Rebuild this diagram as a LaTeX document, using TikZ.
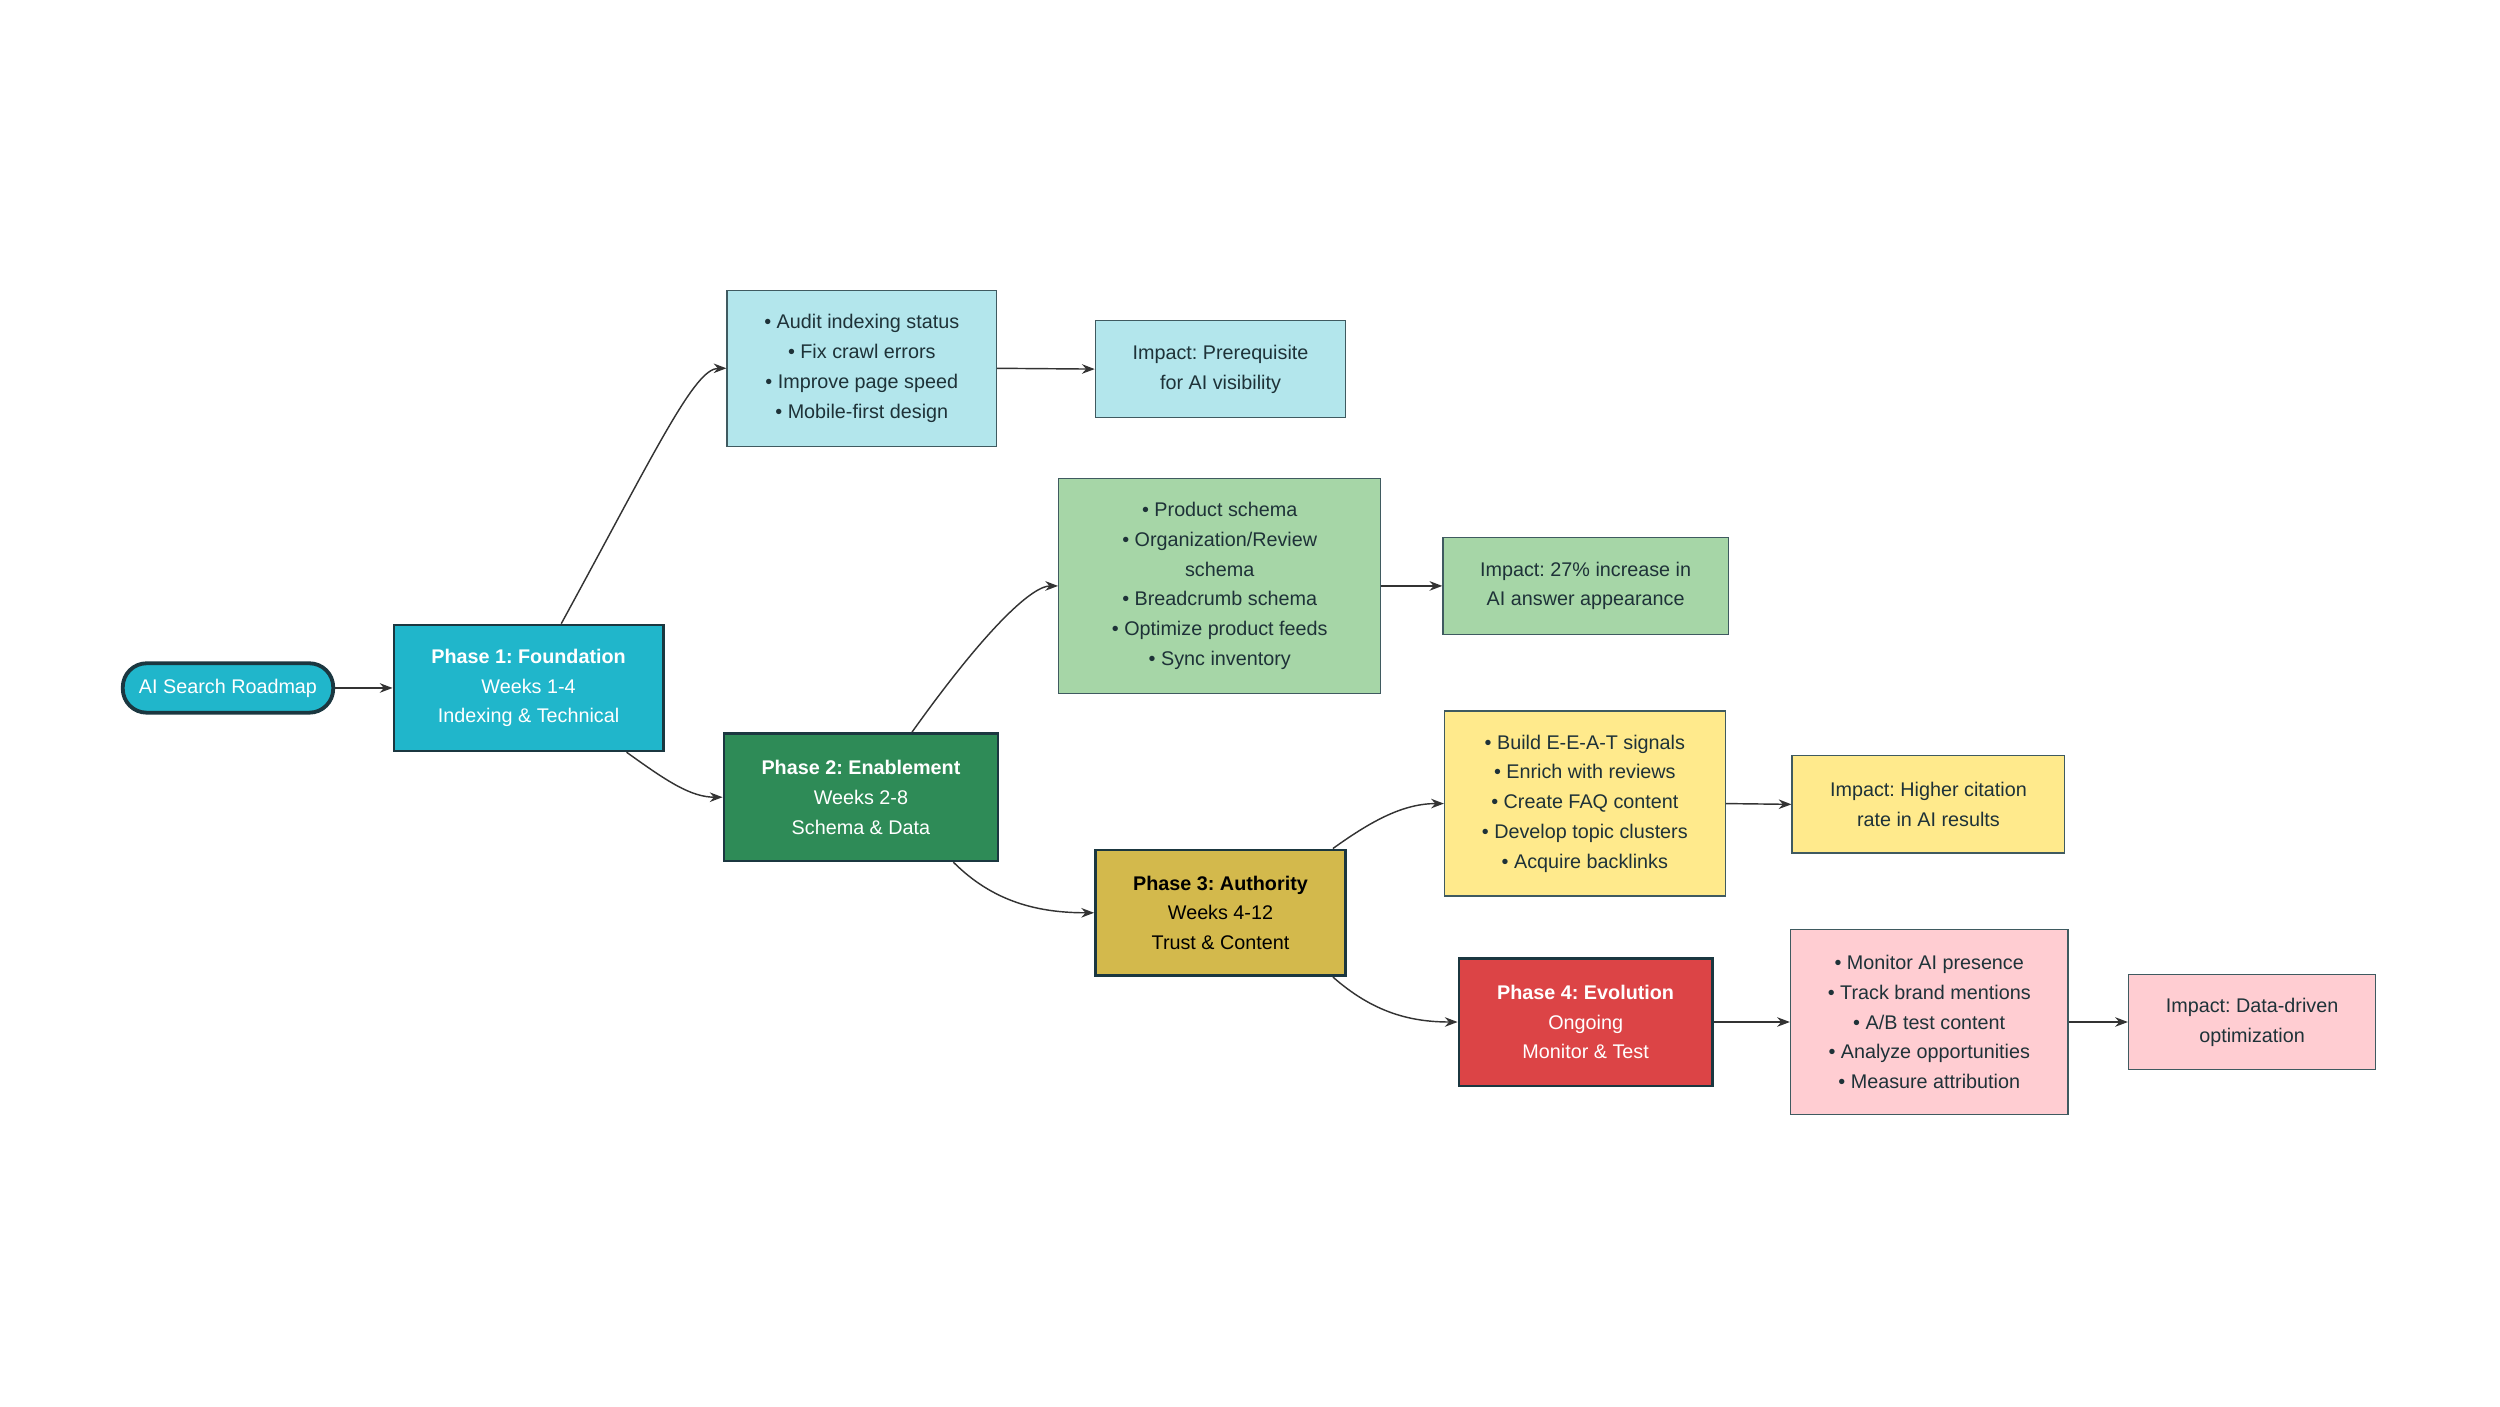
\documentclass[tikz,border=0pt]{standalone}
\usepackage{fontspec}
\setmainfont{Liberation Sans}
\usetikzlibrary{arrows.meta}
\frenchspacing
\definecolor{pone}{HTML}{20B6CB}
\definecolor{lone}{HTML}{B3E6EC}
\definecolor{ptwo}{HTML}{2E8B57}
\definecolor{ltwo}{HTML}{A6D6A7}
\definecolor{pthree}{HTML}{D3B94C}
\definecolor{lthree}{HTML}{FFEA8C}
\definecolor{pfour}{HTML}{DC4446}
\definecolor{lfour}{HTML}{FFCDD2}
\definecolor{bdark}{HTML}{1B3740}
\definecolor{lborder}{HTML}{3F5A60}
\definecolor{tdark}{HTML}{1E3238}
\definecolor{lgray}{HTML}{333333}
\begin{document}
\begin{tikzpicture}[x=1pt,y=-1pt,
  base/.style={align=center, inner sep=0pt, font=\fontsize{12.4}{18.7}\selectfont\frenchspacing},
  pill/.style={base, draw=bdark, line width=2.4pt, fill=pone, text=white, rounded corners=15pt, minimum width=132pt, minimum height=31pt},
  phase/.style={base, draw=bdark, line width=1.6pt},
  listbox/.style={base, draw=lborder, line width=0.8pt, text=tdark},
  conn/.style={draw=lgray, line width=0.9pt, -{Stealth[length=8pt,width=6pt]}}]
\useasboundingbox (0,0) rectangle (1568,882);
\fill[white] (0,0) rectangle (1568,882);

\node[pill] (start) at (143,431.5) {AI Search Roadmap};

\node[phase, fill=pone, text=white, minimum width=169pt, minimum height=79pt] (p1) at (331.5,431.5)
  {\textbf{Phase 1: Foundation}\\Weeks 1-4\\Indexing \& Technical};
\node[listbox, fill=lone, minimum width=169pt, minimum height=98pt] (l1) at (540.5,231)
  {• Audit indexing status\\• Fix crawl errors\\• Improve page speed\\• Mobile-first design};
\node[listbox, fill=lone, minimum width=157pt, minimum height=61pt] (i1) at (765.5,231.5)
  {Impact: Prerequisite\\for AI visibility};

\node[phase, fill=ptwo, text=white, minimum width=172pt, minimum height=80pt] (p2) at (540,500)
  {\textbf{Phase 2: Enablement}\\Weeks 2-8\\Schema \& Data};
\node[listbox, fill=ltwo, minimum width=202pt, minimum height=135pt] (l2) at (765,367.5)
  {• Product schema\\• Organization/Review\\schema\\• Breadcrumb schema\\• Optimize product feeds\\• Sync inventory};
\node[listbox, fill=ltwo, minimum width=179pt, minimum height=61pt] (i2) at (994.5,367.5)
  {Impact: 27\% increase in\\AI answer appearance};

\node[phase, fill=pthree, text=black, minimum width=157pt, minimum height=79pt] (p3) at (765.5,572.5)
  {\textbf{Phase 3: Authority}\\Weeks 4-12\\Trust \& Content};
\node[listbox, fill=lthree, minimum width=176pt, minimum height=116pt] (l3) at (994,504)
  {• Build E-E-A-T signals\\• Enrich with reviews\\• Create FAQ content\\• Develop topic clusters\\• Acquire backlinks};
\node[listbox, fill=lthree, minimum width=171pt, minimum height=61pt] (i3) at (1209.5,504.5)
  {Impact: Higher citation\\rate in AI results};

\node[phase, fill=pfour, text=white, minimum width=159pt, minimum height=80pt] (p4) at (994.5,641)
  {\textbf{Phase 4: Evolution}\\Ongoing\\Monitor \& Test};
\node[listbox, fill=lfour, minimum width=174pt, minimum height=116pt] (l4) at (1210,641)
  {• Monitor AI presence\\• Track brand mentions\\• A/B test content\\• Analyze opportunities\\• Measure attribution};
\node[listbox, fill=lfour, minimum width=155pt, minimum height=60pt] (i4) at (1412.5,641)
  {Impact: Data-driven\\optimization};

\draw[conn] (start.east) -- (p1.west);
\draw[conn] ([xshift=20.5pt]p1.north) .. controls +(60,-110) and +(-20,0) .. (l1.west);
\draw[conn] (l1.east) -- (i1.west);
\draw[conn] ([xshift=61.5pt]p1.south) .. controls +(25,18) and +(-20,0) .. (p2.west);
\draw[conn] ([xshift=32pt]p2.north) .. controls +(50,-70) and +(-15,0) .. (l2.west);
\draw[conn] (l2.east) -- (i2.west);
\draw[conn] ([xshift=58pt]p2.south) .. controls +(25,25) and +(-35,0) .. (p3.west);
\draw[conn] ([xshift=70.5pt]p3.north) .. controls +(25,-18) and +(-25,0) .. (l3.west);
\draw[conn] (l3.east) -- (i3.west);
\draw[conn] ([xshift=70.5pt]p3.south) .. controls +(25,22) and +(-30,0) .. (p4.west);
\draw[conn] (p4.east) -- (l4.west);
\draw[conn] (l4.east) -- (i4.west);
\end{tikzpicture}
\end{document}
